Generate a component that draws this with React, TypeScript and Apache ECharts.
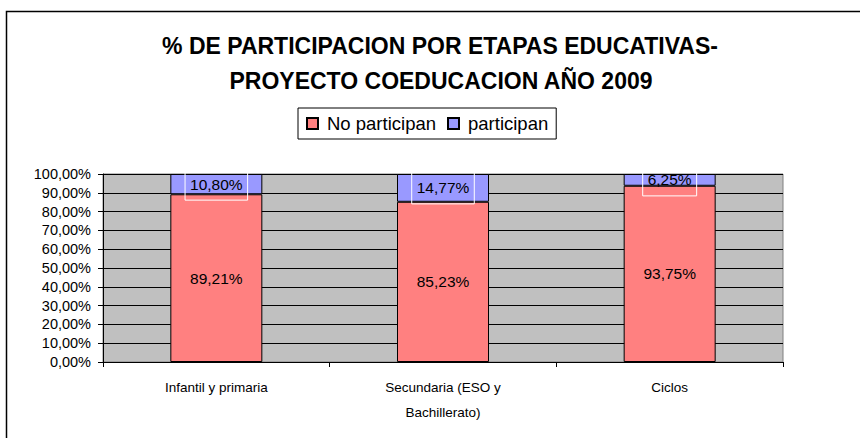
import React, { useEffect, useRef } from "react";
import * as echarts from "echarts";

const categories = ["Infantil y primaria", "Secundaria (ESO y\nBachillerato)", "Ciclos"];
const noParticipan = [89.21, 85.23, 93.75];
const participan = [10.8, 14.77, 6.25];
const seriesNames = ["No participan", "participan"];
const titleLines = ["% DE PARTICIPACION POR ETAPAS EDUCATIVAS-", "PROYECTO COEDUCACION AÑO 2009"];

const FONT = "'Liberation Sans', Arial, sans-serif";
const fmt = (v: number) => v.toFixed(2).replace(".", ",") + "%";

export default function App() {
  const ref = useRef<HTMLDivElement>(null);
  useEffect(() => {
    if (!ref.current) return;
    const chart = echarts.init(ref.current, undefined, { renderer: "svg" });
    chart.setOption({
      animation: false,
      backgroundColor: "#ffffff",
      textStyle: { fontFamily: FONT },
      graphic: [
        {
          type: "rect",
          shape: { x: 6.5, y: 11.5, width: 1000, height: 1000 },
          style: { fill: "none", stroke: "#000", lineWidth: 1.5 },
          silent: true,
        },
        {
          type: "text",
          x: 440,
          y: 46,
          style: {
            text: titleLines[0],
            fontFamily: FONT,
            fontSize: 23,
            fontWeight: "bold",
            fill: "#000",
            textAlign: "center",
            textVerticalAlign: "middle",
          },
        },
        {
          type: "text",
          x: 441,
          y: 81,
          style: {
            text: titleLines[1],
            fontFamily: FONT,
            fontSize: 23,
            fontWeight: "bold",
            fill: "#000",
            textAlign: "center",
            textVerticalAlign: "middle",
          },
        },
      ],
      legend: {
        left: 298,
        top: 108,
        itemWidth: 11,
        itemHeight: 11,
        itemGap: 11,
        padding: [6, 8, 6, 8],
        borderColor: "#000",
        borderWidth: 1,
        icon: "rect",
        textStyle: { fontFamily: FONT, fontSize: 18.5, color: "#000", padding: [0, 0, 0, 4] },
        data: seriesNames,
      },
      grid: {
        left: 103,
        right: 77,
        top: 174,
        bottom: 76,
        show: true,
        backgroundColor: "#C0C0C0",
        borderColor: "#808080",
        borderWidth: 1,
      },
      xAxis: {
        type: "category",
        data: categories,
        axisLine: { lineStyle: { color: "#000", width: 1 } },
        axisTick: { show: true, length: 5, lineStyle: { color: "#000" } },
        axisLabel: { color: "#000", fontSize: 13.5, fontFamily: FONT, lineHeight: 25, margin: 13 },
      },
      yAxis: {
        type: "value",
        min: 0,
        max: 100,
        interval: 10,
        axisLine: { show: true, lineStyle: { color: "#000", width: 1 } },
        axisTick: { show: true, length: 5, lineStyle: { color: "#000" } },
        axisLabel: { color: "#000", fontSize: 14.5, fontFamily: FONT, formatter: (v: number) => fmt(v), margin: 12 },
        splitLine: { show: true, lineStyle: { color: "#000", width: 1 } },
      },
      series: [
        {
          name: seriesNames[0],
          type: "bar",
          stack: "total",
          barWidth: 92,
          data: noParticipan,
          itemStyle: { color: "#FF8080", borderColor: "#000", borderWidth: 1 },
          label: {
            show: true,
            position: "inside",
            color: "#000",
            fontSize: 15.5,
            fontFamily: FONT,
            formatter: (p: any) => fmt(p.value),
          },
        },
        {
          name: seriesNames[1],
          type: "bar",
          stack: "total",
          barWidth: 92,
          data: participan,
          itemStyle: { color: "#9999FF", borderColor: "#000", borderWidth: 1 },
          label: {
            show: true,
            position: "inside",
            color: "#000",
            fontSize: 15.5,
            fontFamily: FONT,
            borderColor: "#ffffff",
            borderWidth: 1,
            padding: [8, 5, 8, 5],
            formatter: (p: any) => fmt(p.value),
          },
        },
      ],
    });
    return () => chart.dispose();
  }, []);
  return (
    <div
      ref={ref}
      style={{ position: "absolute", left: 0, top: 0, width: 860, height: 438 }}
    />
  );
}
